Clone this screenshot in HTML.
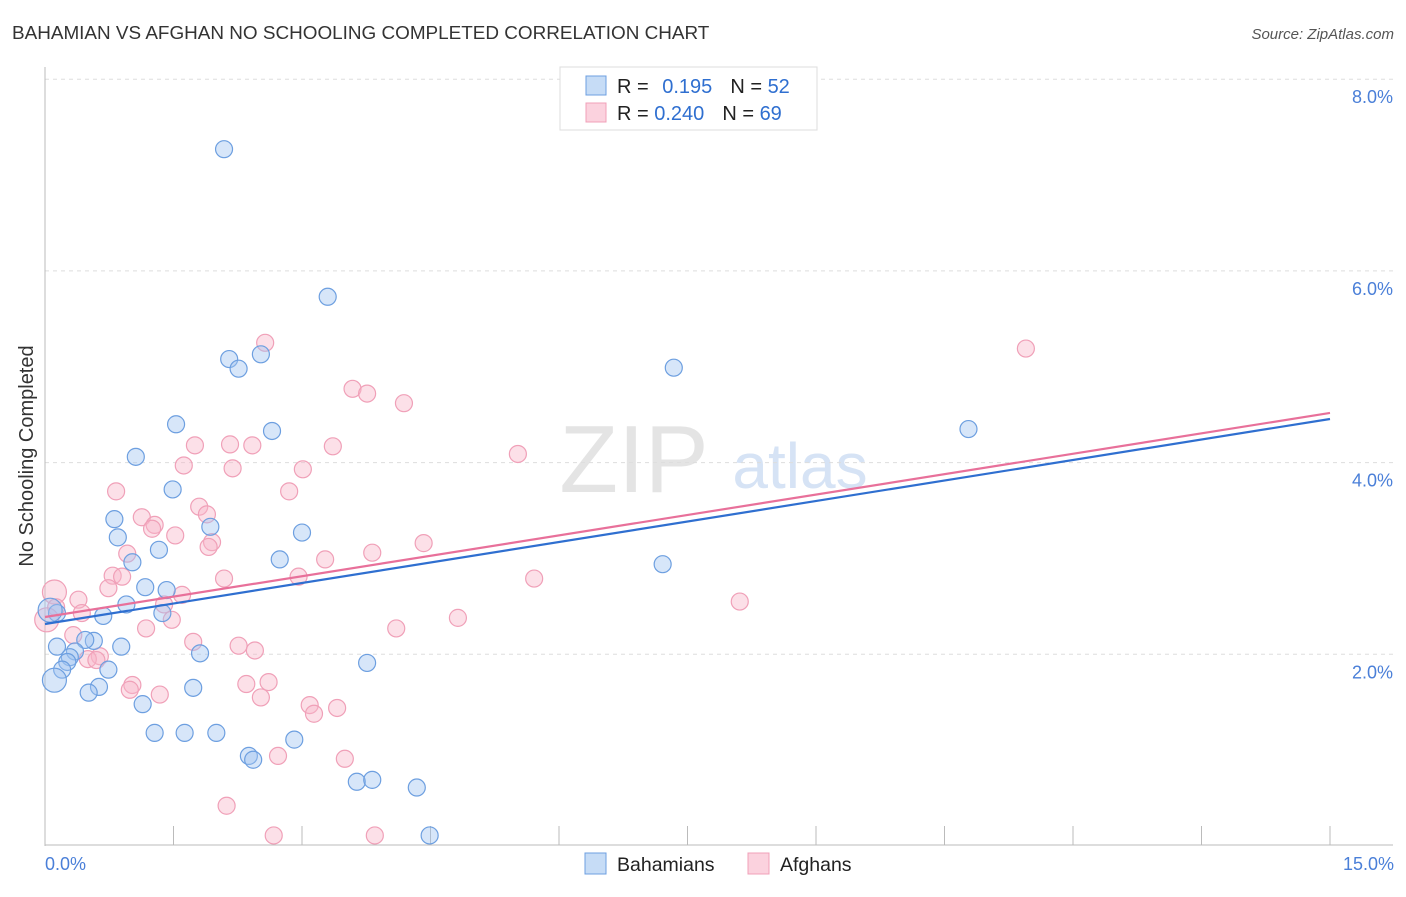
<!DOCTYPE html>
<html><head><meta charset="utf-8"><style>
body{margin:0;background:#fff;font-family:"Liberation Sans",sans-serif}
svg text{font-family:"Liberation Sans",sans-serif}
</style></head><body>
<svg id="c" width="1406" height="892" xmlns="http://www.w3.org/2000/svg">
<text x="12" y="39" font-size="18.9" fill="#333">BAHAMIAN VS AFGHAN NO SCHOOLING COMPLETED CORRELATION CHART</text>
<text x="1394" y="39" font-size="15" fill="#555" font-style="italic" text-anchor="end">Source: ZipAtlas.com</text>
<text x="634" y="492" font-size="96" fill="#e4e4e4" text-anchor="middle" font-family="Liberation Serif,serif">ZIP</text>
<text x="800" y="488" font-size="64" fill="#d6e3f5" text-anchor="middle">atlas</text>
<g id="grid"></g><g id="axes"></g><g id="pts"></g><g id="lines"></g>
<text x="33" y="456" font-size="20" fill="#333" text-anchor="middle" transform="rotate(-90 33 456)">No Schooling Completed</text>
<text x="45" y="870" font-size="18" fill="#4a7fd8">0.0%</text>
<text x="1394" y="870" font-size="18" fill="#4a7fd8" text-anchor="end">15.0%</text>
<g>
<rect x="560" y="67" width="257" height="63" fill="#fff" stroke="#ddd"/>
<rect x="586" y="76" width="20" height="19" fill="rgba(160,196,240,0.6)" stroke="#6d9fe0"/>
<rect x="586" y="103" width="20" height="19" fill="rgba(248,180,200,0.6)" stroke="#f0a0b8"/>
<text x="617" y="93" font-size="20" fill="#222">R = <tspan fill="#2f6fd0" dx="8">0.195</tspan><tspan fill="#222" dx="18">N = </tspan><tspan fill="#2f6fd0">52</tspan></text>
<text x="617" y="120" font-size="20" fill="#222">R = <tspan fill="#2f6fd0">0.240</tspan><tspan fill="#222" dx="18">N = </tspan><tspan fill="#2f6fd0">69</tspan></text>
</g>
<g>
<rect x="585" y="853" width="21" height="21" fill="rgba(160,196,240,0.6)" stroke="#6d9fe0"/>
<text x="617" y="871" font-size="19.5" fill="#222">Bahamians</text>
<rect x="748" y="853" width="21" height="21" fill="rgba(248,180,200,0.6)" stroke="#f0a0b8"/>
<text x="780" y="871" font-size="19.5" fill="#222">Afghans</text>
</g>
</svg>
<script>
const yTicks=[2,4,6,8];
const blueX=[2.09,3.30,2.15,2.52,2.26,7.34,1.53,2.65,10.78,1.06,1.49,0.81,1.93,3.00,0.85,1.33,1.02,2.74,7.21,1.17,1.42,0.95,1.37,0.68,0.14,0.06,0.57,0.47,0.14,0.89,0.35,0.29,0.26,1.81,0.74,0.20,0.11,3.76,0.63,0.51,1.73,1.14,1.28,1.63,2.00,2.91,2.38,2.43,3.64,3.82,4.34,4.49];
const blueY=[7.27,5.73,5.08,5.13,4.98,4.99,4.40,4.33,4.35,4.06,3.72,3.41,3.33,3.27,3.22,3.09,2.96,2.99,2.94,2.70,2.67,2.52,2.43,2.40,2.43,2.46,2.14,2.15,2.08,2.08,2.03,1.97,1.92,2.01,1.84,1.84,1.73,1.91,1.66,1.60,1.65,1.48,1.18,1.18,1.18,1.11,0.94,0.90,0.67,0.69,0.61,0.11];
const pinkX=[2.57,11.45,3.59,3.76,4.19,1.75,2.16,2.42,3.36,5.52,1.62,2.19,3.01,0.83,2.85,1.80,1.13,1.89,1.28,1.25,1.52,4.42,1.95,1.91,0.96,3.82,3.27,0.79,0.90,2.09,2.96,5.71,0.74,1.60,0.39,0.11,0.13,1.39,0.43,8.11,1.48,4.82,0.02,4.10,1.18,0.33,1.73,2.26,2.45,0.64,0.50,0.60,1.02,2.61,2.35,0.99,1.34,2.52,3.09,3.41,3.14,2.72,3.50,2.12,2.67,3.85];
const pinkY=[5.25,5.19,4.77,4.72,4.62,4.18,4.19,4.18,4.17,4.09,3.97,3.94,3.93,3.70,3.70,3.54,3.43,3.46,3.35,3.31,3.24,3.16,3.17,3.12,3.05,3.06,2.99,2.82,2.81,2.79,2.81,2.79,2.69,2.62,2.57,2.65,2.49,2.52,2.43,2.55,2.36,2.38,2.36,2.27,2.27,2.20,2.13,2.09,2.04,1.98,1.95,1.94,1.68,1.71,1.69,1.63,1.58,1.55,1.47,1.44,1.38,0.94,0.91,0.42,0.11,0.11];
const blueLine=[2.316,4.455];
const pinkLine=[2.389,4.518];
const X0=45,X1=1330,Y0=846,PXY=95.85;
const sx=v=>X0+v/15*(X1-X0), sy=v=>Y0-v*PXY;
const NS="http://www.w3.org/2000/svg";
function mk(tag,attrs,parent){const e=document.createElementNS(NS,tag);for(const k in attrs)e.setAttribute(k,attrs[k]);document.getElementById(parent).appendChild(e);return e;}
yTicks.forEach(t=>{
 const l=mk('line',{x1:45,x2:1393,y1:sy(t),y2:sy(t),stroke:'#ddd','stroke-dasharray':'4,4'},'grid');
 
 
 const tx=mk('text',{x:1393,y:sy(t)+24,'font-size':18,fill:'#4a7fd8','text-anchor':'end'},'grid');
 tx.textContent=t.toFixed(1)+'%';
 
 
});
let a=mk('line',{x1:45,x2:45,y1:67,y2:846,stroke:'#bbb'},'axes');


a=mk('line',{x1:45,x2:1393,y1:845,y2:845,stroke:'#bbb'},'axes');


for(let i=1;i<=10;i++){const t=mk('line',{x1:sx(i*1.5),x2:sx(i*1.5),y1:826,y2:845,stroke:'#bbb'},'axes');
 
 }
function pts(xs,ys,fill,stroke,name){xs.forEach((x,i)=>{
 const c=mk('circle',{cx:sx(x),cy:sy(ys[i]),r:x<0.12?12:8.5,fill:fill,stroke:stroke,'stroke-width':1.2},'pts');
 
 });}
pts(pinkX,pinkY,'rgba(248,180,200,0.42)','#f0a0b8','afghan-point');
pts(blueX,blueY,'rgba(160,196,240,0.42)','#6d9fe0','bahamian-point');
let ln=mk('line',{x1:sx(0),y1:sy(blueLine[0]),x2:sx(15),y2:sy(blueLine[1]),stroke:'#2f6fd0','stroke-width':2.2},'lines');


ln=mk('line',{x1:sx(0),y1:sy(pinkLine[0]),x2:sx(15),y2:sy(pinkLine[1]),stroke:'#e8709a','stroke-width':2.2},'lines');


</script>
</body></html>
